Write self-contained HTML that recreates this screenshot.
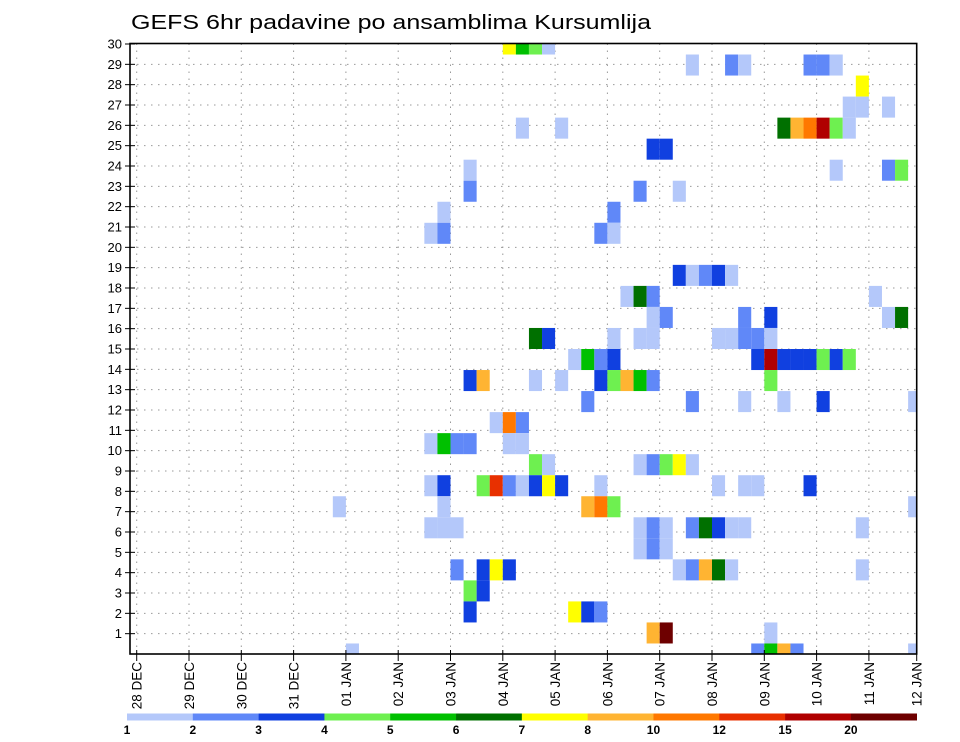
<!DOCTYPE html>
<html><head><meta charset="utf-8"><style>
html,body{margin:0;padding:0;background:#fff;}
svg{display:block;font-family:"Liberation Sans",sans-serif;}
</style></head><body>
<svg id="chart" width="960" height="742" viewBox="0 0 960 742" xmlns="http://www.w3.org/2000/svg">
<text x="131" y="29" font-size="20" textLength="520" lengthAdjust="spacingAndGlyphs" fill="#000">GEFS 6hr padavine po ansamblima Kursumlija</text>
<g id="grid"></g>
<g id="cells"></g>
<g id="axes"></g>
<g id="legend"></g>
</svg>
<script>
// ---- data ----
const dayLabels = ["28 DEC","29 DEC","30 DEC","31 DEC","01 JAN","02 JAN","03 JAN","04 JAN","05 JAN","06 JAN","07 JAN","08 JAN","09 JAN","10 JAN","11 JAN","12 JAN"];
const memberTicks = [1,2,3,4,5,6,7,8,9,10,11,12,13,14,15,16,17,18,19,20,21,22,23,24,25,26,27,28,29,30];
const levels = [1,2,3,4,5,6,7,8,10,12,15,20];
const levelColors = ["#b4c8fa","#6088f8","#1040e0","#6ef050","#00c000","#007000","#ffff00","#ffb432","#ff7800","#e83000","#b00000","#6e0000"];
// cells: 6-hr step index from 28 DEC 00 UTC, ensemble member, precipitation (mm)
const cellStep = [
28,29,30,31, 42,45,46,51,52,53, 55, 54,55,57,
29,32,49,50,51,52,53,54, 39,40, 25,53,57,58, 25,38,41, 23,36, 22,23,35,36,
41,42,43,44,45, 37,38,39,56, 39,40,46,48,57,58,
30,31,36,38,39,44,45,46,47,48,
33,34,35,36,47,48,49,50,51,52,53,54,
25,26,30,32,35,36,37,38,39,48,
34,42,46,49,52,59,
27,28,29, 22,23,24,25,28,29,
30,31,38,39,40,41,42,
22,23,26,27,28,29,30,31,32,35,44,46,47,51,
15,23,34,35,36,59,
22,23,24,38,39,40,42,43,44,45,46,55,
38,39,40,
24,26,27,28,41,42,43,44,45,55,
25,26, 25,33,34,35, 39,40,48,
16,47,48,49,50,59
];
const cellMember = [
30,30,30,30, 29,29,29,29,29,29, 28, 27,27,27,
26,26,26,26,26,26,26,26, 25,25, 24,24,24,24, 23,23,23, 22,22, 21,21,21,21,
19,19,19,19,19, 18,18,18,18, 17,17,17,17,17,17,
16,16,16,16,16,16,16,16,16,16,
15,15,15,15,15,15,15,15,15,15,15,15,
14,14,14,14,14,14,14,14,14,14,
13,13,13,13,13,13,
12,12,12, 11,11,11,11,11,11,
10,10,10,10,10,10,10,
9,9,9,9,9,9,9,9,9,9,9,9,9,9,
8,8,8,8,8,8,
7,7,7,7,7,7,7,7,7,7,7,7,
6,6,6,
5,5,5,5,5,5,5,5,5,5,
4,4, 3,3,3,3, 2,2,2,
1,1,1,1,1,1
];
const cellValue = [
7.5,5.5,4.5,1.5, 1.5,2.5,1.5,2.5,2.5,1.5, 7.5, 1.5,1.5,1.5,
1.5,1.5,6.5,9,11,17,4.5,1.5, 3.5,3.5, 1.5,1.5,2.5,4.5, 2.5,2.5,1.5, 1.5,2.5, 1.5,2.5,2.5,1.5,
3.5,1.5,2.5,3.5,1.5, 1.5,6.5,2.5,1.5, 1.5,2.5,2.5,3.5,1.5,6.5,
6.5,3.5,1.5,1.5,1.5,1.5,1.5,2.5,2.5,1.5,
1.5,5.5,2.5,3.5,3.5,17,3.5,3.5,3.5,4.5,3.5,4.5,
3.5,9,1.5,1.5,3.5,4.5,9,5.5,2.5,4.5,
2.5,2.5,1.5,1.5,3.5,1.5,
1.5,11,2.5, 1.5,5.5,2.5,2.5,1.5,1.5,
4.5,1.5,1.5,2.5,4.5,7.5,1.5,
1.5,3.5,4.5,13.5,2.5,1.5,3.5,7.5,3.5,1.5,1.5,1.5,1.5,3.5,
1.5,1.5,9,11,4.5,1.5,
1.5,1.5,1.5,1.5,2.5,1.5,2.5,6.5,3.5,1.5,1.5,1.5,
1.5,2.5,1.5,
2.5,3.5,7.5,3.5,1.5,2.5,9,6.5,1.5,1.5,
4.5,3.5, 3.5,7.5,3.5,2.5, 9,22,1.5,
1.5,2.5,5.5,9,2.5,1.5
];
// ---- scales ----
const NS='http://www.w3.org/2000/svg';
const L=130, R=916.7, T=43.5, B=654;
const dayX0=136.7, dayW=52.3, stepW=dayW/4;
function xDay(d){return dayX0+d*dayW;}
function xStep(s){return dayX0+s*stepW;}
function yTick(r){return 44+(30-r)*(610/30);}
function yMember(m){return 44+(30-m)*(610/29);}
const cellH=610/29;
function colorFor(v){let c=null;for(let i=0;i<levels.length;i++){if(v>=levels[i])c=levelColors[i];}return c;}
function mk(tag,attrs,parent){const e=document.createElementNS(NS,tag);for(const k in attrs)e.setAttribute(k,attrs[k]);parent.appendChild(e);return e;}
const grid=document.getElementById('grid'),cells=document.getElementById('cells'),axes=document.getElementById('axes'),legend=document.getElementById('legend');
// grid
memberTicks.forEach(r=>{ if(r>=30) return;
  const ln=mk('line',{x1:L,x2:R,y1:yTick(r),y2:yTick(r),stroke:'#999','stroke-width':1,'stroke-dasharray':'1.5 5.5'},grid);
  
  
});
dayLabels.forEach((d,i)=>{ const x=Math.min(xDay(i),R); if(x>=R-1) return;
  const ln=mk('line',{x1:x,x2:x,y1:T,y2:B,stroke:'#999','stroke-width':1,'stroke-dasharray':'1.5 5.5'},grid);
  
  
});
// cells
const clip=mk('clipPath',{id:'plotclip'},document.getElementById('chart'));
mk('rect',{x:L,y:T,width:R-L,height:B-T},clip);
cells.setAttribute('clip-path','url(#plotclip)');
for(let i=0;i<cellStep.length;i++){
  const c=colorFor(cellValue[i]); if(!c) continue;
  const r=mk('rect',{x:xStep(cellStep[i]),y:yMember(cellMember[i])-cellH/2,width:stepW,height:cellH,fill:c},cells);
  
  
}
// axes frame
const fr=mk('rect',{x:L,y:T,width:R-L,height:B-T,fill:'none',stroke:'#000','stroke-width':1.6},axes);


memberTicks.forEach(r=>{
  const y=yTick(r);
  mk('line',{x1:L-5,x2:L+5,y1:y,y2:y,stroke:'#000','stroke-width':1},axes);
  const t=mk('text',{x:L-8,y:y+4.5,'text-anchor':'end','font-size':13,fill:'#000'},axes);
  t.textContent=String(r);
  
  
});
dayLabels.forEach((d,i)=>{
  const x=Math.min(xDay(i),R);
  mk('line',{x1:x,x2:x,y1:B-4,y2:B+7,stroke:'#000','stroke-width':1},axes);
  const t=mk('text',{x:0,y:0,'text-anchor':'end','font-size':13.5,fill:'#000',transform:'translate('+(x+5)+','+(B+8)+') rotate(-90)'},axes);
  t.textContent=d;
  
  
});
// colorbar
const cbL=127, cbR=916.7, segW=(cbR-cbL)/levels.length;
levels.forEach((lv,i)=>{
  const r=mk('rect',{x:cbL+i*segW,y:713.5,width:segW+0.3,height:7,fill:levelColors[i]},legend);
  
  
  const t=mk('text',{x:cbL+i*segW,y:734,'text-anchor':'middle','font-size':12,'font-weight':'bold',fill:'#000'},legend);
  t.textContent=String(lv);
  
  
});
</script>
</body></html>
